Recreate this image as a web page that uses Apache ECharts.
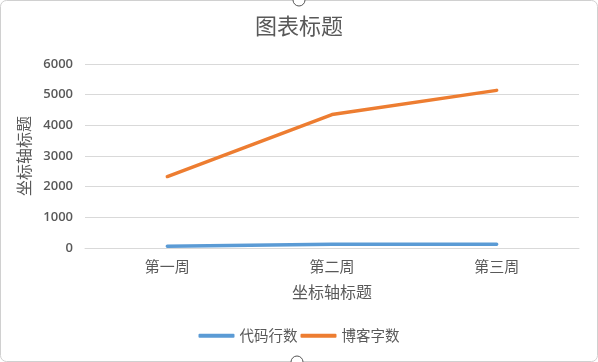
<!DOCTYPE html>
<html><head><meta charset="utf-8">
<script src="https://cdn.jsdelivr.net/npm/echarts@6/dist/echarts.min.js"></script>
<style>html,body{margin:0;padding:0;background:#fff;}#c{width:598px;height:362px;}</style>
</head><body><div id="c"></div>
<script>
const categories = ['第一周', '第二周', '第三周'];
const codeLines = [60, 120, 120];
const blogWords = [2330, 4350, 5140];
const yTicks = [0, 1000, 2000, 3000, 4000, 5000, 6000];
const seriesNames = ['代码行数', '博客字数'];

const cjk = '"Noto Sans CJK SC", sans-serif';
const chart = echarts.init(document.getElementById('c'), null, {renderer: 'canvas'});
chart.setOption({
  animation: false,
  backgroundColor: '#fff',
  title: {text: '图表标题', left: 'center', top: 10, textStyle: {fontFamily: cjk, fontSize: 22, fontWeight: 'normal', color: '#595959'}},
  grid: {left: 85, right: 19, top: 64, bottom: 114},
  legend: {bottom: 14, left: 'center', itemWidth: 36, itemHeight: 4, itemGap: 3,
    icon: 'roundRect',
    textStyle: {fontFamily: cjk, fontSize: 14.5, color: '#595959', padding: [0, 0, 0, 0]},
    data: seriesNames},
  xAxis: {type: 'category', data: categories, boundaryGap: true,
    name: '坐标轴标题', nameLocation: 'middle', nameGap: 36,
    nameTextStyle: {fontFamily: cjk, fontSize: 16, color: '#595959'},
    axisLine: {lineStyle: {color: '#d9d9d9', width: 1}}, axisTick: {show: false},
    axisLabel: {fontFamily: cjk, fontSize: 15, color: '#595959', margin: 11}},
  yAxis: {type: 'value', min: yTicks[0], max: yTicks[yTicks.length - 1], interval: 1000,
    name: '坐标轴标题', nameLocation: 'middle', nameGap: 50,
    nameTextStyle: {fontFamily: cjk, fontSize: 16, color: '#595959'},
    axisLine: {show: false}, axisTick: {show: false},
    axisLabel: {fontFamily: '"Open Sans", sans-serif', fontSize: 13, fontWeight: 600, color: '#595959', margin: 12,
      formatter: function (v) { return String(v); }},
    splitLine: {lineStyle: {color: '#d9d9d9', width: 1}}},
  series: [
    {name: seriesNames[0], type: 'line', data: codeLines, symbol: 'none', color: '#5B9BD5', lineStyle: {width: 3.5, cap: 'round'}},
    {name: seriesNames[1], type: 'line', data: blogWords, symbol: 'none', color: '#ED7D31', lineStyle: {width: 3.5, cap: 'round'}}
  ],
  graphic: [
    {type: 'rect', shape: {x: 0.5, y: 0.5, width: 597, height: 361, r: 6}, style: {fill: 'none', stroke: '#d0d0d0', lineWidth: 1}, silent: true},
    {type: 'circle', shape: {cx: 299, cy: 0, r: 6}, style: {fill: '#fff', stroke: '#555', lineWidth: 1}, silent: true},
    {type: 'circle', shape: {cx: 297, cy: 362, r: 6}, style: {fill: '#fff', stroke: '#555', lineWidth: 1}, silent: true}
  ]
});
</script></body></html>
